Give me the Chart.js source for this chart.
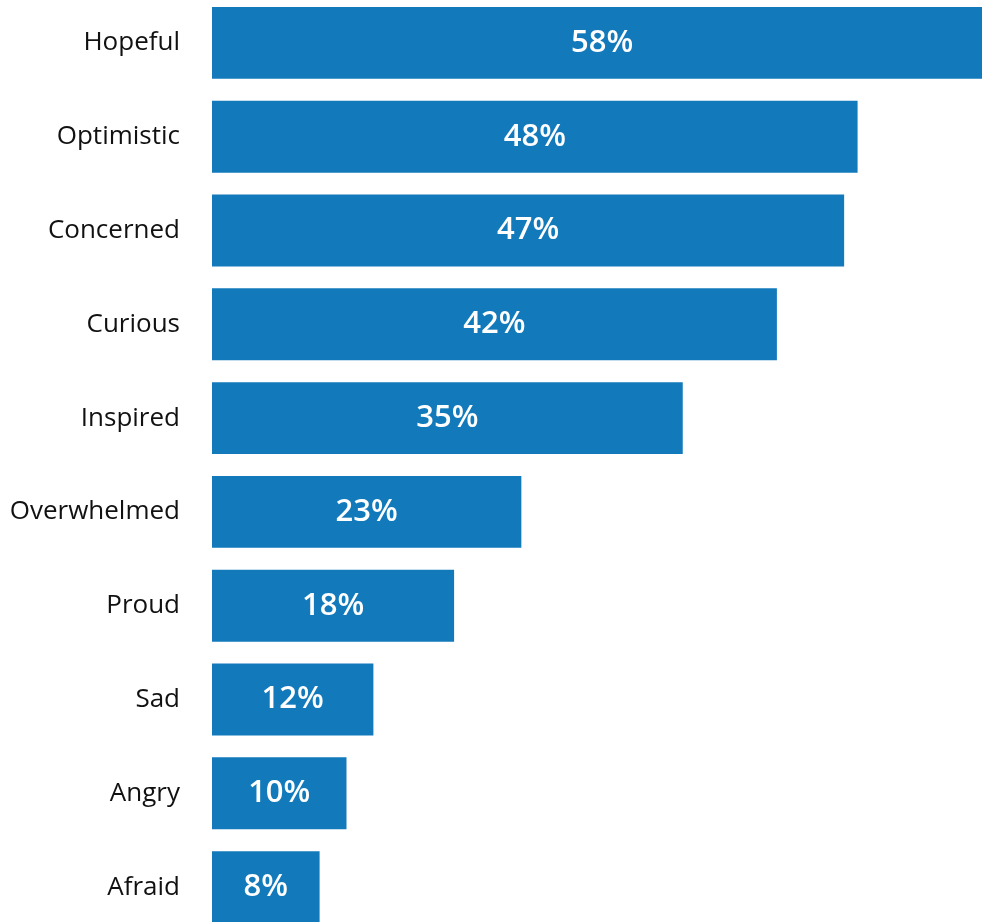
<!DOCTYPE html>
<html>
<head>
<meta charset="utf-8">
<script src="https://cdn.jsdelivr.net/npm/chart.js@4"></script>
<style>
  html, body { margin: 0; padding: 0; background: #fff; overflow: hidden; }
  #wrap { position: absolute; left: 0; top: -4px; width: 982px; height: 938px; }
</style>
</head>
<body>
<div id="wrap"><canvas id="feelings-chart"></canvas></div>
<script>
const feelings = [
  "Hopeful",
  "Optimistic",
  "Concerned",
  "Curious",
  "Inspired",
  "Overwhelmed",
  "Proud",
  "Sad",
  "Angry",
  "Afraid",
];
const shares = [58, 48, 47, 42, 35, 23, 18, 12, 10, 8];

// writes the percentage in the middle of each bar
const barLabels = {
  id: "barLabels",
  afterDatasetsDraw(chart) {
    const ctx = chart.ctx;
    const meta = chart.getDatasetMeta(0);
    ctx.save();
    ctx.fillStyle = "#ffffff";
    ctx.font = "600 31px 'Open Sans'";
    ctx.textAlign = "center";
    ctx.textBaseline = "middle";
    meta.data.forEach((bar, i) => {
      const x = (bar.x + bar.base) / 2;
      ctx.fillText(shares[i] + "%", x, bar.y);
    });
    ctx.restore();
  },
};

const ctx = document.getElementById("feelings-chart").getContext("2d");
const chart = new Chart(ctx, {
  type: "bar",
  data: {
    labels: feelings,
    datasets: [
      {
        data: shares,
        backgroundColor: "#1279bb",
        borderWidth: 0,
        barPercentage: 0.767,
        categoryPercentage: 1,
      },
    ],
  },
  options: {
    indexAxis: "y",
    responsive: true,
    maintainAspectRatio: false,
    animation: false,
    layout: { padding: 0 },
    scales: {
      x: {
        display: false,
        min: 0,
        max: 57.25,
      },
      y: {
        grid: { display: false, drawTicks: false },
        border: { display: false },
        ticks: {
          padding: 32,
          color: "#111111",
          font: { family: "'Open Sans'", size: 26 },
        },
        afterFit(scale) {
          scale.width = 212;
          // no extra room above/below for the first and last label
          scale.paddingTop = 0;
          scale.paddingBottom = 0;
        },
      },
    },
    plugins: {
      legend: { display: false },
      tooltip: { enabled: false },
    },
  },
  plugins: [barLabels],
});
</script>
</body>
</html>
